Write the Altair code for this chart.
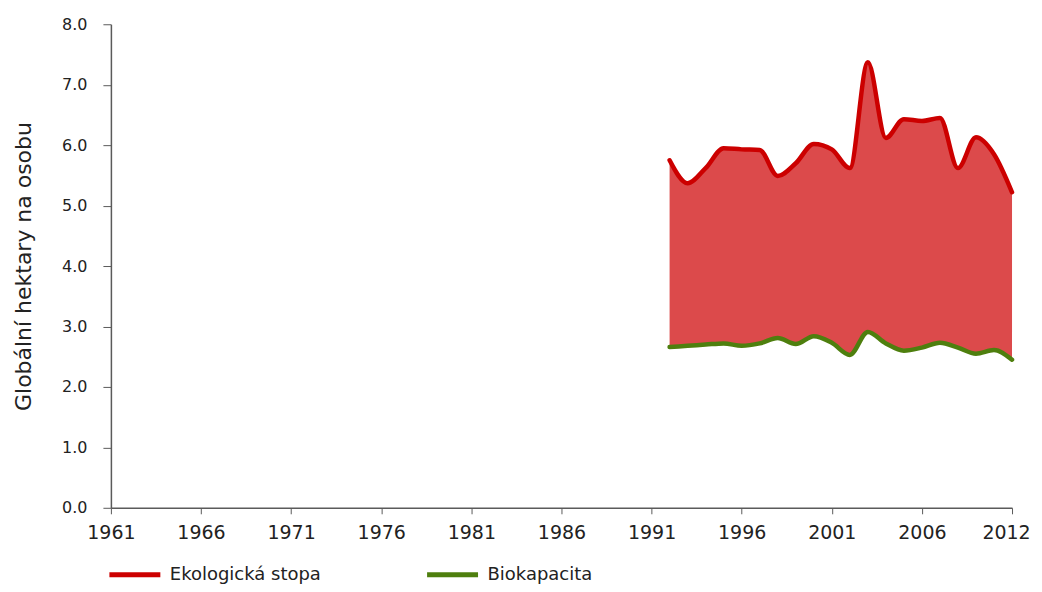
import altair as alt
import pandas as pd

years = list(range(1992, 2012))
eco = [5.75, 5.37, 5.62, 5.95, 5.93, 5.92, 5.49, 5.70, 6.02, 5.93, 5.62, 7.37,
       6.12, 6.43, 6.40, 6.45, 5.62, 6.13, 5.85, 5.22]
bio = [2.66, 2.68, 2.70, 2.72, 2.68, 2.72, 2.81, 2.71, 2.84, 2.73, 2.53, 2.91,
       2.72, 2.60, 2.65, 2.73, 2.65, 2.55, 2.61, 2.45]
series_names = ["Ekologická stopa", "Biokapacita"]
series_colors = ["#CC0000", "#4E7F0E"]
x_ticks = [1961, 1966, 1971, 1976, 1981, 1986, 1991, 1996, 2001, 2006, 2011]

FONT = "DejaVu Sans"

wide = pd.DataFrame({"year": years, "eco": eco, "bio": bio})
long = pd.concat([
    pd.DataFrame({"year": years, "value": eco, "series": series_names[0]}),
    pd.DataFrame({"year": years, "value": bio, "series": series_names[1]}),
])

x_axis = alt.Axis(values=x_ticks, format="d",
                  labelExpr="datum.value == 2011 ? '2012' : datum.label",
                  labelOffset={"expr": "datum.value == 2011 ? -6 : 0"},
                  title=None, grid=False, tickSize=6, labelPadding=10,
                  labelFlush=False, labelOverlap=False,
                  domainColor="#5a5a5a", tickColor="#5a5a5a", domainWidth=1.5,
                  labelFontSize=19, labelColor="#222222", labelFont=FONT)
y_axis = alt.Axis(values=[0, 1, 2, 3, 4, 5, 6, 7, 8], format=".1f",
                  title="Globální hektary na osobu", titleFontSize=22,
                  titleFontWeight="normal", titleColor="#222222", titleFont=FONT,
                  titlePadding=26, grid=False, tickSize=8, labelPadding=16,
                  labelFlush=False,
                  domainColor="#5a5a5a", tickColor="#5a5a5a", domainWidth=1.5,
                  labelFontSize=16, labelColor="#222222", labelFont=FONT)

xs = alt.Scale(domain=[1961, 2011], nice=False, zero=False)
ys = alt.Scale(domain=[0, 8], nice=False)

area = alt.Chart(wide).mark_area(interpolate="monotone", color="#DC4A4B", opacity=1).encode(
    x=alt.X("year:Q", scale=xs, axis=x_axis),
    y=alt.Y("bio:Q", scale=ys, axis=y_axis),
    y2="eco:Q",
)

lines = alt.Chart(long).mark_line(interpolate="monotone", strokeWidth=4.5, strokeCap="round").encode(
    x=alt.X("year:Q", scale=xs),
    y=alt.Y("value:Q", scale=ys),
    color=alt.Color("series:N",
                    scale=alt.Scale(domain=series_names, range=series_colors),
                    legend=alt.Legend(orient="none", legendX=-4, legendY=523,
                                      direction="horizontal", title=None,
                                      symbolType="stroke", symbolSize=2601,
                                      symbolStrokeWidth=5, labelFontSize=18,
                                      labelFont=FONT, labelColor="#222222",
                                      columnPadding=95, labelOffset=7,
                                      labelLimit=400)),
    detail="series:N",
)

chart = alt.layer(area, lines).properties(
    width=902, height=484,
    autosize=alt.AutoSizeParams(type="none"),
    padding={"left": 103, "top": 16, "right": 22, "bottom": 76},
).configure_view(stroke=None)

chart.save("out.html", embed_options={"renderer": "svg", "actions": False})
